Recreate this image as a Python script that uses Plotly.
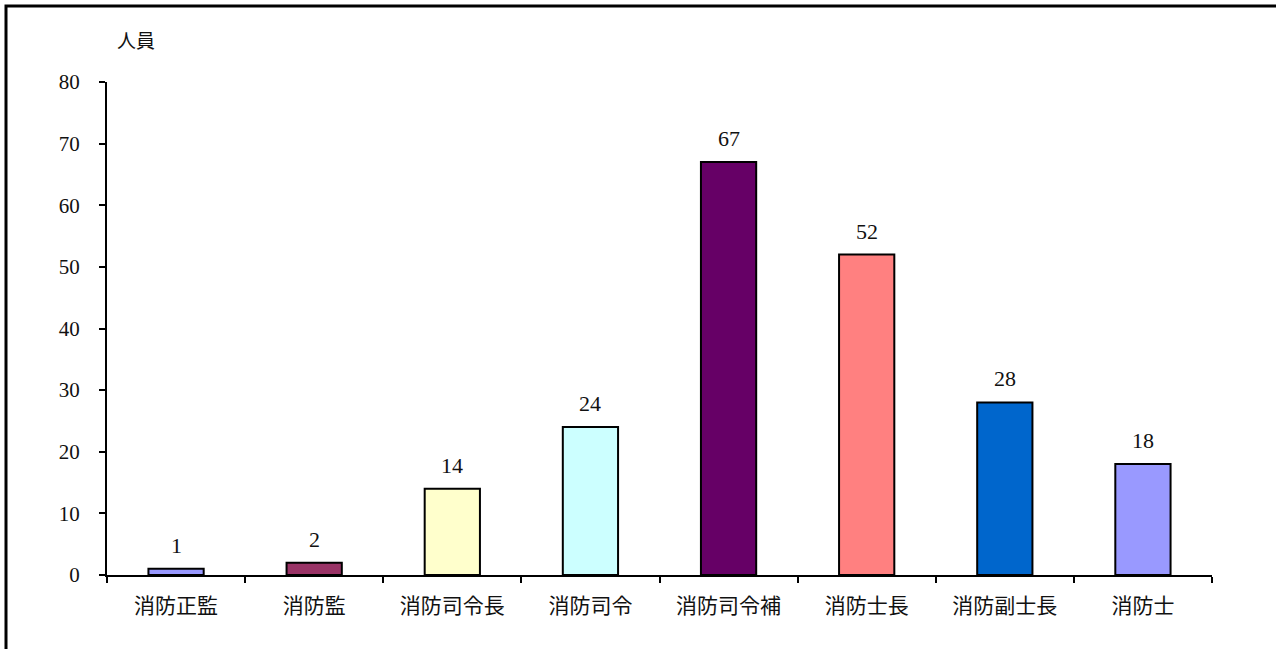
import plotly.graph_objects as go

# 階級別の人員数
categories = ["消防正監", "消防監", "消防司令長", "消防司令", "消防司令補", "消防士長", "消防副士長", "消防士"]
counts = [1, 2, 14, 24, 67, 52, 28, 18]
bar_colors = ["#9999FF", "#993366", "#FFFFCC", "#CCFFFF", "#660066", "#FF8080", "#0066CC", "#9999FF"]
y_ticks = [0, 10, 20, 30, 40, 50, 60, 70, 80]

FONT = "Liberation Serif, 'Noto Sans CJK JP', serif"

fig = go.Figure(
    go.Bar(
        x=categories,
        y=counts,
        width=0.4,
        marker=dict(color=bar_colors, line=dict(color="black", width=2)),
        hoverinfo="x+y",
    )
)

# 棒の上の数値ラベル
for cat, val in zip(categories, counts):
    fig.add_annotation(
        x=cat, y=val, text=str(val), showarrow=False,
        yanchor="bottom", yshift=9,
        font=dict(family=FONT, size=22, color="#111"),
    )

# 縦軸の単位
fig.add_annotation(
    xref="paper", yref="paper", x=0.026, y=1.083, text="人員",
    xanchor="center", yanchor="middle",
    showarrow=False, font=dict(family=FONT, size=19, color="#111"),
)

# 外枠
fig.add_shape(
    type="rect", xref="paper", yref="paper",
    x0=-0.0914, y0=1.154, x1=1.08, y1=-0.2,
    line=dict(color="black", width=3), fillcolor="rgba(0,0,0,0)",
)

fig.update_layout(
    width=1276, height=649,
    margin=dict(l=107, r=64, t=82, b=74),
    paper_bgcolor="white", plot_bgcolor="white",
    showlegend=False,
    font=dict(family=FONT, size=22, color="#111"),
    bargap=0.6,
)
fig.update_xaxes(
    type="category", range=[-0.5, 7.5],
    showline=True, linecolor="black", linewidth=2,
    ticks="outside", tickson="boundaries", ticklen=6, tickwidth=2, tickcolor="black",
    showgrid=False, ticklabelstandoff=11,
    tickfont=dict(family=FONT, size=21, color="#111"),
)
fig.update_yaxes(
    range=[0, 80], tickvals=y_ticks,
    showline=True, linecolor="black", linewidth=2,
    ticks="outside", ticklen=6, tickwidth=2, tickcolor="black",
    showgrid=False, zeroline=False, ticklabelstandoff=15,
    tickfont=dict(family=FONT, size=21, color="#111"),
)

fig.write_html("out.html")
